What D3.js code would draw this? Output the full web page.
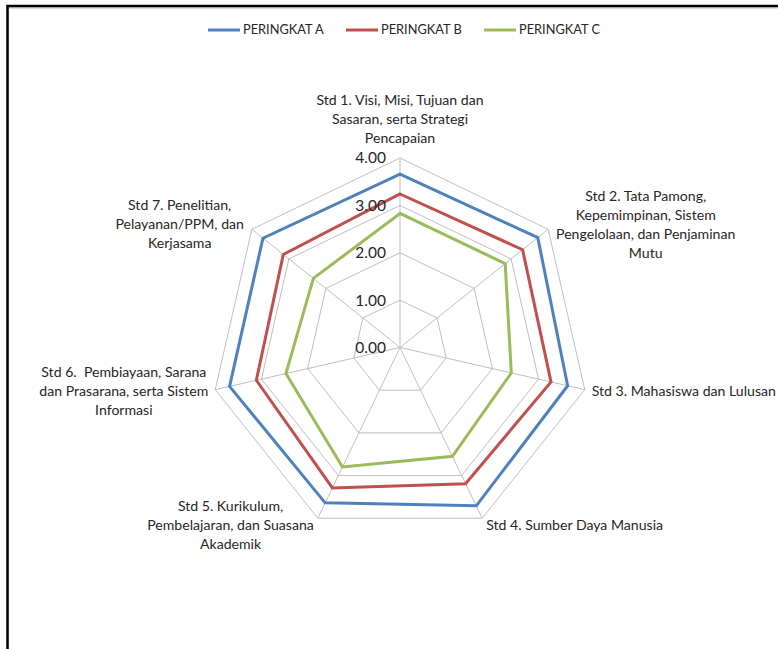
<!DOCTYPE html>
<html>
<head>
<meta charset="utf-8">
<script src="https://cdn.jsdelivr.net/npm/d3@7"></script>
<style>
  html, body { margin: 0; padding: 0; background: #fff; }
  svg { display: block; }
  text { font-family: Lato, "Noto Sans", sans-serif; fill: #262626; white-space: pre; }
</style>
</head>
<body>
<svg id="chart" width="778" height="649"></svg>
<script>
// Axis labels (one entry per standard, already broken into lines)
const categories = [
  ["Std 1. Visi, Misi, Tujuan dan", "Sasaran, serta Strategi", "Pencapaian"],
  ["Std 2. Tata Pamong,", "Kepemimpinan, Sistem", "Pengelolaan, dan Penjaminan", "Mutu"],
  ["Std 3. Mahasiswa dan Lulusan"],
  ["Std 4. Sumber Daya Manusia"],
  ["Std 5. Kurikulum,", "Pembelajaran, dan Suasana", "Akademik"],
  ["Std 6.  Pembiayaan, Sarana", "dan Prasarana, serta Sistem", "Informasi"],
  ["Std 7. Penelitian,", "Pelayanan/PPM, dan", "Kerjasama"]
];

const seriesNames = ["PERINGKAT A", "PERINGKAT B", "PERINGKAT C"];
const peringkatA = [3.66, 3.72, 3.63, 3.71, 3.64, 3.69, 3.70];
const peringkatB = [3.24, 3.31, 3.27, 3.19, 3.29, 3.11, 3.15];
const peringkatC = [2.83, 2.84, 2.41, 2.55, 2.80, 2.47, 2.34];
const seriesColors = ["#4F81BD", "#C0504D", "#9BBB59"];

const tickValues = [0, 1, 2, 3, 4];

const svg = d3.select("#chart");

// Chart-area frame
svg.append("path")
  .attr("d", "M8,649 V8 H778")
  .attr("fill", "none").attr("stroke", "#bdbdbd").attr("stroke-width", 1);
svg.append("path")
  .attr("d", "M7.5,649 V6 H778")
  .attr("fill", "none").attr("stroke", "#000").attr("stroke-width", 2.5);

const cx = 400, cy = 347.5, R = 189.5;
const n = categories.length;
const r = d3.scaleLinear().domain([0, 4]).range([0, R]);
const angle = i => (i * 2 * Math.PI) / n;

const g = svg.append("g").attr("transform", `translate(${cx},${cy})`);

// Polygonal grid
const gridLine = d3.lineRadial().angle((d, i) => angle(i)).radius(d => r(d)).curve(d3.curveLinearClosed);
g.selectAll("path.grid")
  .data(tickValues.filter(v => v > 0))
  .join("path")
  .attr("class", "grid")
  .attr("d", v => gridLine(d3.range(n).map(() => v)))
  .attr("fill", "none")
  .attr("stroke", "#bfbfbf")
  .attr("stroke-width", 1);

// Spokes
g.selectAll("line.spoke")
  .data(d3.range(n))
  .join("line")
  .attr("class", "spoke")
  .attr("x1", 0).attr("y1", 0)
  .attr("x2", i => r(4) * Math.sin(angle(i)))
  .attr("y2", i => -r(4) * Math.cos(angle(i)))
  .attr("stroke", "#bfbfbf")
  .attr("stroke-width", 1);

// Series
const seriesData = [peringkatA, peringkatB, peringkatC];
const seriesLine = d3.lineRadial().angle((d, i) => angle(i)).radius(d => r(d)).curve(d3.curveLinearClosed);
g.selectAll("path.series")
  .data(seriesData)
  .join("path")
  .attr("class", "series")
  .attr("d", d => seriesLine(d))
  .attr("fill", "none")
  .attr("stroke", (d, i) => seriesColors[i])
  .attr("stroke-width", 3)
  .attr("stroke-linejoin", "miter");

// Value axis tick labels
g.selectAll("text.tick")
  .data(tickValues)
  .join("text")
  .attr("class", "tick")
  .attr("x", -14)
  .attr("y", v => -r(v))
  .attr("dy", "0.35em")
  .attr("text-anchor", "end")
  .style("font-size", "15.5px")
  .text(v => d3.format(".2f")(v));

// Category labels
const lineH = 19;
categories.forEach((lines, i) => {
  const a = angle(i);
  const dx = Math.sin(a), dy = -Math.cos(a);
  const vx = r(4) * dx, vy = r(4) * dy;
  const t = g.append("text").style("font-size", "14.1px").attr("text-anchor", "middle");
  const spans = lines.map(s => t.append("tspan").text(s));
  const w = d3.max(spans, s => s.node().getComputedTextLength());
  const h = lines.length * lineH;
  const gap = 8 - 4.5 * Math.max(0, dy);
  let bx, by;
  if (Math.abs(dx) < 0.1) {
    bx = vx;
    by = vy - 10 - h / 2;
  } else {
    bx = dx > 0 ? vx + gap + w / 2 : vx - gap - w / 2;
    by = vy + 8 * dy;
  }
  spans.forEach((s, k) => {
    s.attr("x", bx).attr("y", by - h / 2 + lineH * k + lineH / 2).attr("dy", "0.35em");
  });
});

// Legend
const legendX = [208, 346, 484];
const legend = svg.append("g");
seriesNames.forEach((name, i) => {
  legend.append("line")
    .attr("x1", legendX[i]).attr("x2", legendX[i] + 32)
    .attr("y1", 30).attr("y2", 30)
    .attr("stroke", seriesColors[i]).attr("stroke-width", 3);
  legend.append("text")
    .attr("x", legendX[i] + 35).attr("y", 30).attr("dy", "0.35em")
    .style("font-size", "12.8px")
    .text(name);
});
</script>
</body>
</html>
